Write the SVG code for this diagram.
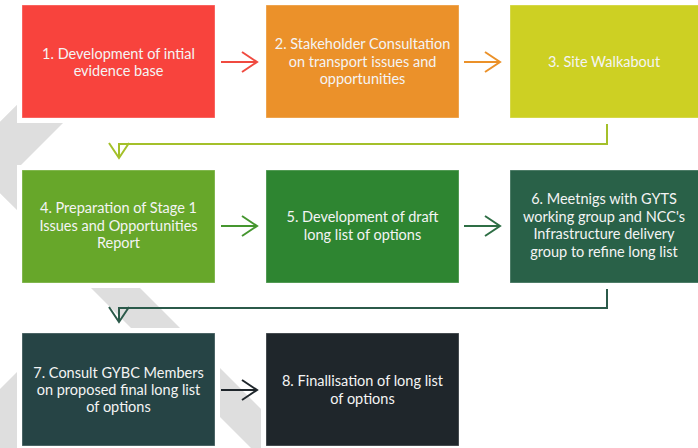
<svg xmlns="http://www.w3.org/2000/svg" width="698" height="448" viewBox="0 0 698 448">
<style>
.bg{fill:#DEDEDE}
.gap{fill:#FFFFFF}
.box{stroke:#FFFFFF;stroke-opacity:0.35;stroke-width:1}
.t{font-family:Lato,"Liberation Sans",sans-serif;font-size:14.5px;fill:#F4F4F4;text-anchor:middle}
.c{fill:none;stroke-width:2}
</style>
<defs>
<marker id="mRed" markerUnits="userSpaceOnUse" markerWidth="20" markerHeight="24" refX="16" refY="11" orient="auto" overflow="visible"><path d="M1,1 L16,11 L1,21" fill="none" stroke="#F04A40" stroke-width="2"/></marker>
<marker id="mOrange" markerUnits="userSpaceOnUse" markerWidth="20" markerHeight="24" refX="16" refY="11" orient="auto" overflow="visible"><path d="M1,1 L16,11 L1,21" fill="none" stroke="#EB9129" stroke-width="2"/></marker>
<marker id="mOlive" markerUnits="userSpaceOnUse" markerWidth="20" markerHeight="24" refX="16" refY="11" orient="auto" overflow="visible"><path d="M1,1 L16,11 L1,21" fill="none" stroke="#A4C02A" stroke-width="2"/></marker>
<marker id="mGreen" markerUnits="userSpaceOnUse" markerWidth="20" markerHeight="24" refX="16" refY="11" orient="auto" overflow="visible"><path d="M1,1 L16,11 L1,21" fill="none" stroke="#45962F" stroke-width="2"/></marker>
<marker id="mDkGreen" markerUnits="userSpaceOnUse" markerWidth="20" markerHeight="24" refX="16" refY="11" orient="auto" overflow="visible"><path d="M1,1 L16,11 L1,21" fill="none" stroke="#2E6E45" stroke-width="2"/></marker>
<marker id="mTeal" markerUnits="userSpaceOnUse" markerWidth="20" markerHeight="24" refX="16" refY="11" orient="auto" overflow="visible"><path d="M1,1 L16,11 L1,21" fill="none" stroke="#2B5A4A" stroke-width="2"/></marker>
<marker id="mDark" markerUnits="userSpaceOnUse" markerWidth="20" markerHeight="24" refX="16" refY="11" orient="auto" overflow="visible"><path d="M1,1 L16,11 L1,21" fill="none" stroke="#1F262B" stroke-width="2"/></marker>
</defs>
<rect width="698" height="448" fill="#FFFFFF"/>
<g id="background">
<polygon class="bg" points="-36,157.5 57,65 121,65 21,165 21,214"/>
<polygon class="bg" points="43,240 92,240 300,448 251,448"/>
<polygon class="bg" points="-40,429 57,332 121,332 21,448 -40,448"/>
</g>
<g id="gaps">
<rect class="gap" x="17" y="0" width="203" height="123"/>
<rect class="gap" x="261" y="0" width="203" height="123"/>
<rect class="gap" x="505" y="0" width="193" height="123"/>
<rect class="gap" x="17" y="165" width="203" height="123"/>
<rect class="gap" x="261" y="165" width="203" height="123"/>
<rect class="gap" x="505" y="165" width="193" height="123"/>
<rect class="gap" x="17" y="328" width="203" height="120"/>
<rect class="gap" x="261" y="328" width="203" height="120"/>
</g>
<g id="node1"><rect class="box" x="22" y="5" width="193" height="113" fill="#F8433D"/>
<text class="t" x="118.5" y="59">1. Development of intial</text><text class="t" x="118.5" y="76">evidence base</text></g>
<g id="node2"><rect class="box" x="266" y="5" width="193" height="113" fill="#EB912A"/>
<text class="t" x="362.5" y="49">2. Stakeholder Consultation</text><text class="t" x="362.5" y="67">on transport issues and</text><text class="t" x="362.5" y="84">opportunities</text></g>
<g id="node3"><rect class="box" x="510" y="5" width="190" height="113" fill="#CDD023"/>
<text class="t" x="604" y="67">3. Site Walkabout</text></g>
<g id="node4"><rect class="box" x="22" y="170" width="193" height="113" fill="#67A72A"/>
<text class="t" x="118.5" y="213">4. Preparation of Stage 1</text><text class="t" x="118.5" y="231">Issues and Opportunities</text><text class="t" x="118.5" y="248">Report</text></g>
<g id="node5"><rect class="box" x="266" y="170" width="193" height="113" fill="#2E8531"/>
<text class="t" x="362.5" y="222">5. Development of draft</text><text class="t" x="362.5" y="240">long list of options</text></g>
<g id="node6"><rect class="box" x="510" y="170" width="190" height="113" fill="#296148"/>
<text class="t" x="604" y="204">6. Meetnigs with GYTS</text><text class="t" x="604" y="222">working group and NCC's</text><text class="t" x="604" y="239">Infrastructure delivery</text><text class="t" x="604" y="257">group to refine long list</text></g>
<g id="node7"><rect class="box" x="22" y="333" width="193" height="113" fill="#264445"/>
<text class="t" x="118.5" y="378">7. Consult GYBC Members</text><text class="t" x="118.5" y="395">on proposed final long list</text><text class="t" x="118.5" y="412">of options</text></g>
<g id="node8"><rect class="box" x="266" y="333" width="193" height="113" fill="#1F262B"/>
<text class="t" x="362.5" y="386">8. Finallisation of long list</text><text class="t" x="362.5" y="404">of options</text></g>
<g id="connectors">
<path class="c" d="M221,62 H257" stroke="#F04A40" marker-end="url(#mRed)"/>
<path class="c" d="M464,62 H500" stroke="#EB9129" marker-end="url(#mOrange)"/>
<path class="c" d="M607,124 V144 H119 V158" stroke="#A4C02A" marker-end="url(#mOlive)"/>
<path class="c" d="M221,226 H257" stroke="#45962F" marker-end="url(#mGreen)"/>
<path class="c" d="M464,226 H500" stroke="#2E6E45" marker-end="url(#mDkGreen)"/>
<path class="c" d="M607,289 V308 H119 V322" stroke="#2B5A4A" marker-end="url(#mTeal)"/>
<path class="c" d="M221,390 H257" stroke="#1F262B" marker-end="url(#mDark)"/>
</g>
</svg>
